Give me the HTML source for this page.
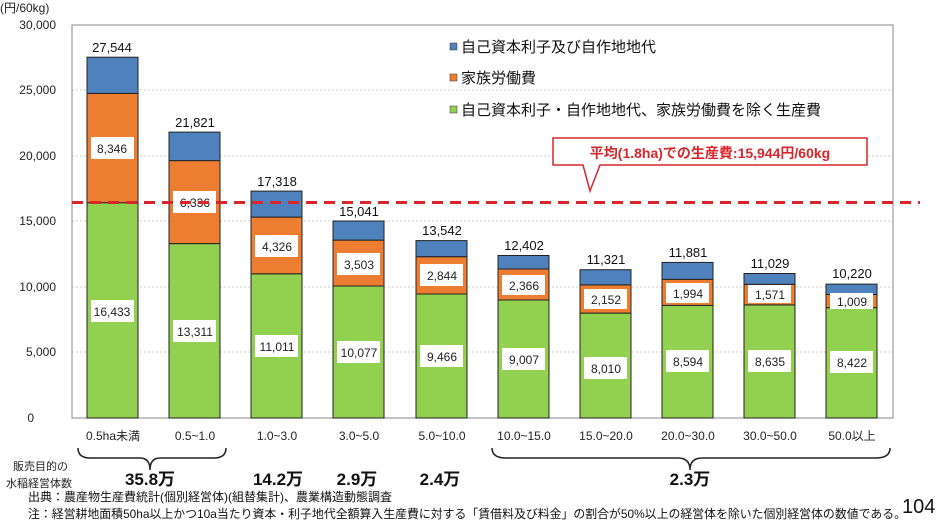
<!DOCTYPE html>
<html><head><meta charset="utf-8"><style>
body{margin:0;background:#fff;}
svg text{font-family:"Liberation Sans","Noto Sans CJK JP",sans-serif;}
</style></head><body>
<svg width="936" height="524" viewBox="0 0 936 524" xmlns="http://www.w3.org/2000/svg">
<rect width="936" height="524" fill="#fff"/>
<g stroke="#ccc" stroke-dasharray="2,2" stroke-width="1">
<line x1="72" y1="90" x2="893" y2="90"/><line x1="72" y1="156" x2="893" y2="156"/>
<line x1="72" y1="221" x2="893" y2="221"/><line x1="72" y1="287" x2="893" y2="287"/>
<line x1="72" y1="352" x2="893" y2="352"/>
</g>
<rect x="72" y="25" width="821" height="393" fill="none" stroke="#888" stroke-width="1"/>
<g font-size="12" fill="#222" text-anchor="end">
<text x="56" y="29">30,000</text><text x="56" y="94">25,000</text><text x="56" y="160">20,000</text>
<text x="56" y="225">15,000</text><text x="56" y="291">10,000</text><text x="56" y="356">5,000</text><text x="34" y="422">0</text>
</g>
<text x="0" y="12" font-size="12" fill="#222">(円/60kg)</text>
<g stroke="#222" stroke-width="1">
<rect x="87" y="202.7" width="51" height="215.3" fill="#92d050"/><rect x="87" y="93.4" width="51" height="109.3" fill="#ed7d31"/><rect x="87" y="57.2" width="51" height="36.2" fill="#4f81bd"/>
<rect x="169" y="243.6" width="51" height="174.4" fill="#92d050"/><rect x="169" y="160.6" width="51" height="83" fill="#ed7d31"/><rect x="169" y="132.1" width="51" height="28.5" fill="#4f81bd"/>
<rect x="251" y="273.8" width="51" height="144.2" fill="#92d050"/><rect x="251" y="217.1" width="51" height="56.7" fill="#ed7d31"/><rect x="251" y="191.1" width="51" height="26" fill="#4f81bd"/>
<rect x="333" y="286" width="51" height="132" fill="#92d050"/><rect x="333" y="240.1" width="51" height="45.9" fill="#ed7d31"/><rect x="333" y="221" width="51" height="19.1" fill="#4f81bd"/>
<rect x="416" y="294" width="51" height="124" fill="#92d050"/><rect x="416" y="256.7" width="51" height="37.3" fill="#ed7d31"/><rect x="416" y="240.6" width="51" height="16.1" fill="#4f81bd"/>
<rect x="498" y="300" width="51" height="118" fill="#92d050"/><rect x="498" y="269" width="51" height="31" fill="#ed7d31"/><rect x="498" y="255.5" width="51" height="13.5" fill="#4f81bd"/>
<rect x="580" y="313.1" width="51" height="104.9" fill="#92d050"/><rect x="580" y="284.9" width="51" height="28.2" fill="#ed7d31"/><rect x="580" y="269.7" width="51" height="15.2" fill="#4f81bd"/>
<rect x="662" y="305.4" width="51" height="112.6" fill="#92d050"/><rect x="662" y="279.3" width="51" height="26.1" fill="#ed7d31"/><rect x="662" y="262.4" width="51" height="16.9" fill="#4f81bd"/>
<rect x="744" y="304.9" width="51" height="113.1" fill="#92d050"/><rect x="744" y="284.3" width="51" height="20.6" fill="#ed7d31"/><rect x="744" y="273.5" width="51" height="10.8" fill="#4f81bd"/>
<rect x="826" y="307.7" width="51" height="110.3" fill="#92d050"/><rect x="826" y="294.5" width="51" height="13.2" fill="#ed7d31"/><rect x="826" y="284.1" width="51" height="10.4" fill="#4f81bd"/>
</g>
<g font-size="13" fill="#111" text-anchor="middle">
<text x="112" y="52">27,544</text><text x="195" y="127">21,821</text><text x="277" y="186">17,318</text>
<text x="359" y="216">15,041</text><text x="442" y="235">13,542</text><text x="524" y="250">12,402</text>
<text x="606" y="264">11,321</text><text x="688" y="257">11,881</text><text x="770" y="268">11,029</text><text x="852" y="278">10,220</text>
</g>
<g fill="#fff">
<rect x="91" y="137" width="43" height="22"/><rect x="173" y="191" width="43" height="22"/><rect x="255" y="235" width="43" height="22"/>
<rect x="337" y="253" width="43" height="22"/><rect x="420" y="264" width="43" height="22"/><rect x="502" y="275" width="43" height="20"/>
<rect x="584" y="289" width="43" height="20"/><rect x="666" y="283" width="43" height="20"/><rect x="748" y="285" width="43" height="18"/><rect x="830" y="293" width="43" height="16"/>
<rect x="91" y="300" width="43" height="22"/><rect x="173" y="320" width="43" height="22"/><rect x="255" y="335" width="43" height="22"/>
<rect x="337" y="341" width="43" height="22"/><rect x="420" y="345" width="43" height="22"/><rect x="502" y="348" width="43" height="22"/>
<rect x="584" y="357" width="43" height="22"/><rect x="666" y="350" width="43" height="22"/><rect x="748" y="350" width="43" height="22"/><rect x="830" y="351" width="43" height="22"/>
</g>
<g font-size="12" fill="#222" text-anchor="middle">
<text x="112" y="153">8,346</text><text x="195" y="207">6,336</text><text x="277" y="251">4,326</text>
<text x="359" y="269">3,503</text><text x="442" y="280">2,844</text><text x="524" y="290">2,366</text>
<text x="606" y="304">2,152</text><text x="688" y="298">1,994</text><text x="770" y="299">1,571</text><text x="852" y="306">1,009</text>
<text x="112" y="316">16,433</text><text x="195" y="336">13,311</text><text x="277" y="351">11,011</text>
<text x="359" y="357">10,077</text><text x="442" y="361">9,466</text><text x="524" y="364">9,007</text>
<text x="606" y="373">8,010</text><text x="688" y="366">8,594</text><text x="770" y="366">8,635</text><text x="852" y="367">8,422</text>
</g>
<line x1="72" y1="202.5" x2="920" y2="202.5" stroke="#d9262b" stroke-width="3" stroke-dasharray="11,7"/>
<path d="M553,138 H867 V165 H600 L590,191 L583,165 H553 Z" fill="#fff" stroke="#d9262b" stroke-width="1.5"/>
<text x="710" y="158" font-size="14" font-weight="bold" fill="#d9262b" text-anchor="middle">平均(1.8ha)での生産費:15,944円/60kg</text>
<rect x="450" y="43" width="7" height="7" fill="#4f81bd" stroke="#333" stroke-width="0.5"/>
<rect x="450" y="74" width="7" height="7" fill="#ed7d31" stroke="#333" stroke-width="0.5"/>
<rect x="450" y="106" width="7" height="7" fill="#92d050" stroke="#333" stroke-width="0.5"/>
<g font-size="15" fill="#111"><text x="461" y="52">自己資本利子及び自作地地代</text><text x="461" y="83">家族労働費</text><text x="461" y="115">自己資本利子・自作地地代、家族労働費を除く生産費</text></g>
<g font-size="12" fill="#222" text-anchor="middle">
<text x="113" y="440">0.5ha未満</text><text x="195" y="440">0.5~1.0</text><text x="277" y="440">1.0~3.0</text>
<text x="359" y="440">3.0~5.0</text><text x="442" y="440">5.0~10.0</text><text x="524" y="440">10.0~15.0</text>
<text x="606" y="440">15.0~20.0</text><text x="688" y="440">20.0~30.0</text><text x="770" y="440">30.0~50.0</text><text x="852" y="440">50.0以上</text>
</g>
<g fill="none" stroke="#222" stroke-width="1.5">
<path d="M78,448 Q78,458 90,458 H140 Q150,458 150,470 Q150,458 160,458 H214 Q226,458 226,448"/>
<path d="M492,448 Q492,458 506,458 H678 Q690,458 690,470 Q690,458 702,458 H876 Q890,458 890,448"/>
</g>
<g font-size="11" fill="#222"><text x="13" y="470">販売目的の</text><text x="6" y="487">水稲経営体数</text></g>
<g font-size="17" font-weight="bold" fill="#111" text-anchor="middle">
<text x="150" y="485">35.8万</text><text x="278" y="485">14.2万</text><text x="357" y="485">2.9万</text><text x="440" y="485">2.4万</text><text x="690" y="485">2.3万</text>
</g>
<text x="28" y="501" font-size="12" fill="#111">出典：農産物生産費統計(個別経営体)(組替集計)、農業構造動態調査</text>
<text x="28" y="518" font-size="12" fill="#111" textLength="878" lengthAdjust="spacingAndGlyphs">注：経営耕地面積50ha以上かつ10a当たり資本・利子地代全額算入生産費に対する「賃借料及び料金」の割合が50%以上の経営体を除いた個別経営体の数値である。</text>
<text x="902" y="513" font-size="20" fill="#111">104</text>
</svg>
</body></html>
